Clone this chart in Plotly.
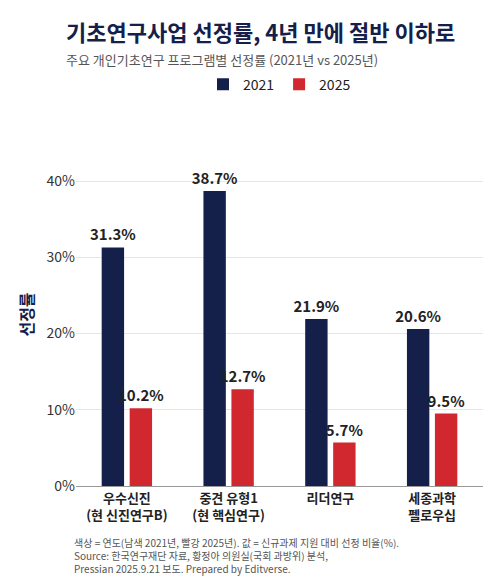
import plotly.graph_objects as go

categories = ["<b>우수신진</b><br><b>(현 신진연구B)</b>", "<b>중견 유형1</b><br><b>(현 핵심연구)</b>", "<b>리더연구</b>", "<b>세종과학</b><br><b>펠로우십</b>"]
v2021 = [31.3, 38.7, 21.9, 20.6]
v2025 = [10.2, 12.7, 5.7, 9.5]
tick_vals = [0, 10, 20, 30, 40]
tick_text = ["0%", "10%", "20%", "30%", "40%"]
navy = "#15204a"
red = "#d0282e"
F = "Noto Sans CJK KR"

fig = go.Figure()
for name, vals, col in [("2021", v2021, navy), ("2025", v2025, red)]:
    fig.add_bar(x=categories, y=vals, name=name, marker_color=col,
                text=[f"<b>{v}%</b>" for v in vals], textposition="outside",
                constraintext="none", textangle=0,
                textfont=dict(family=F, size=15, color="#222"), cliponaxis=False)

fig.update_layout(
    width=500, height=588, barmode="group", bargap=0.45, bargroupgap=0.2,
    plot_bgcolor="white", paper_bgcolor="white",
    font=dict(family=F, color="#222"),
    margin=dict(l=68, r=25, t=135, b=110),
    legend=dict(orientation="h", x=0.5, xanchor="center", y=1.17, yanchor="middle",
                font=dict(size=14), itemwidth=30),
    yaxis=dict(range=[0, 45], tickvals=tick_vals, ticktext=tick_text,
               gridcolor="#e6e6e6", zeroline=False, showline=False,
               tickfont=dict(size=14, color="#333"),
               title=dict(text="<b>선정률</b>", font=dict(size=16, color=navy), standoff=8)),
    xaxis=dict(tickfont=dict(size=13, color="#222"), showline=True, linecolor="#999"),
)
fig.add_annotation(text="<b>기초연구사업 선정률, 4년 만에 절반 이하로</b>", xref="paper", yref="paper",
                   x=-0.03, y=1.0, yshift=112, xanchor="left", yanchor="middle", showarrow=False,
                   font=dict(size=22, color=navy))
fig.add_annotation(text="주요 개인기초연구 프로그램별 선정률 (2021년 vs 2025년)", xref="paper", yref="paper",
                   x=-0.03, y=1.0, yshift=84, xanchor="left", yanchor="middle", showarrow=False,
                   font=dict(size=13, color="#555"))
fig.add_annotation(text="색상 = 연도(남색 2021년, 빨강 2025년). 값 = 신규과제 지원 대비 선정 비율(%).<br>"
                        "Source: 한국연구재단 자료, 황정아 의원실(국회 과방위) 분석,<br>Pressian 2025.9.21 보도. Prepared by Editverse.",
                   xref="paper", yref="paper", x=-0.01, y=0, yshift=-47, xanchor="left", yanchor="top",
                   align="left", showarrow=False, font=dict(size=10, color="#555"))
fig.update_traces(marker_line_width=0)
fig.write_html("out.html")
